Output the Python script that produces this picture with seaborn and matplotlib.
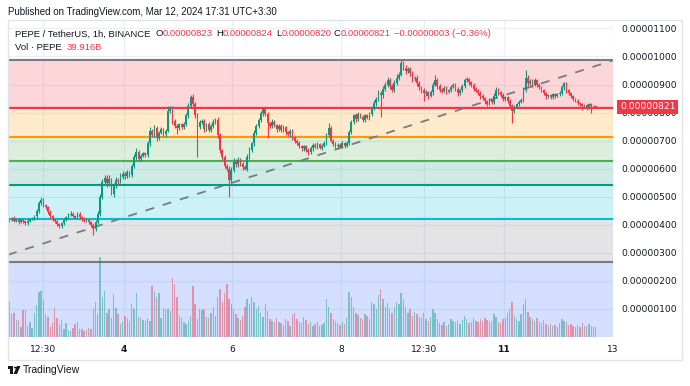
import numpy as np
import pandas as pd
import matplotlib
matplotlib.use("Agg")
import matplotlib.pyplot as plt
import matplotlib.transforms as mtransforms
from matplotlib.patches import Rectangle, Circle, Polygon
import seaborn as sns

# prices are kept in units of 0.00000001 USDT
UNIT = 1e-8

FIRST_OPEN = 415
CLOSE = [
    418, 425, 415, 420, 410, 418, 412, 405, 415, 420,
    422, 430, 450, 478, 490, 470, 462, 445, 430, 420,
    412, 402, 395, 405, 418, 428, 435, 440, 432, 425,
    440, 428, 420, 415, 418, 410, 400, 385, 410, 440,
    500, 552, 568, 548, 562, 510, 540, 560, 555, 572,
    580, 574, 588, 578, 610, 640, 660, 635, 645, 655,
    648, 690, 735, 720, 745, 710, 728, 740, 722, 735,
    805, 815, 770, 752, 745, 758, 748, 760, 790, 825,
    855, 830, 790, 748, 765, 770, 742, 758, 738, 752,
    768, 775, 720, 665, 640, 610, 600, 560, 595, 625,
    615, 632, 618, 605, 600, 642, 668, 690, 728, 752,
    772, 798, 812, 795, 762, 752, 768, 755, 742, 752,
    738, 748, 730, 722, 735, 712, 700, 690, 680, 672,
    680, 668, 660, 672, 685, 678, 688, 675, 682, 690,
    720, 745, 700, 688, 680, 685, 678, 690, 682, 692,
    730, 765, 790, 778, 795, 785, 775, 790, 782, 795,
    815, 835, 848, 870, 862, 885, 900, 915, 895, 880,
    905, 925, 935, 975, 960, 948, 955, 940, 920, 925,
    905, 890, 880, 868, 872, 860, 872, 900, 915, 895,
    882, 878, 888, 875, 880, 892, 900, 885, 870, 880,
    895, 915, 920, 908, 900, 885, 878, 870, 860, 852,
    840, 832, 845, 838, 860, 880, 872, 862, 850, 855,
    842, 825, 805, 820, 830, 838, 845, 880, 925, 905,
    912, 900, 915, 898, 890, 880, 868, 858, 862, 855,
    865, 860, 866, 870, 890, 905, 880, 870, 858, 848,
    842, 835, 830, 822, 826, 818, 830, 825, 823, 821,
]
WICK_UP = [
    5, 4, 6, 3, 5, 4, 6, 3, 5, 4,
    4, 6, 5, 8, 10, 6, 5, 4, 6, 5,
    4, 6, 5, 4, 6, 5, 8, 10, 5, 4,
    6, 5, 4, 6, 5, 4, 3, 5, 6, 8,
    10, 12, 8, 10, 14, 6, 8, 10, 6, 12,
    10, 8, 6, 5, 8, 12, 13, 8, 6, 5,
    6, 8, 12, 8, 10, 6, 8, 10, 6, 8,
    20, 8, 10, 6, 8, 5, 6, 8, 10, 8,
    7, 10, 6, 8, 10, 6, 8, 6, 10, 8,
    8, 6, 10, 8, 6, 8, 6, 8, 10, 12,
    8, 10, 6, 5, 8, 10, 8, 6, 10, 8,
    10, 8, 7, 6, 8, 6, 8, 5, 6, 8,
    6, 8, 5, 6, 8, 6, 5, 6, 8, 5,
    6, 5, 6, 8, 5, 6, 8, 5, 6, 8,
    8, 17, 6, 5, 6, 5, 6, 8, 6, 5,
    8, 10, 6, 8, 6, 5, 8, 6, 5, 8,
    8, 10, 6, 10, 8, 10, 8, 12, 10, 8,
    10, 12, 8, 11, 8, 10, 8, 6, 8, 6,
    8, 6, 5, 6, 8, 5, 8, 10, 18, 8,
    6, 5, 8, 6, 5, 8, 6, 5, 6, 5,
    8, 8, 6, 5, 6, 5, 6, 5, 6, 5,
    5, 6, 8, 5, 8, 10, 6, 5, 6, 5,
    5, 6, 5, 6, 5, 6, 8, 12, 25, 10,
    8, 6, 8, 5, 6, 5, 4, 6, 5, 4,
    5, 4, 5, 6, 8, 5, 4, 5, 4, 4,
    4, 5, 4, 3, 4, 5, 4, 3, 2, 1,
]
WICK_DN = [
    5, 4, 6, 5, 6, 4, 5, 6, 4, 5,
    4, 5, 6, 8, 6, 5, 6, 5, 6, 5,
    5, 8, 6, 5, 4, 5, 6, 5, 6, 5,
    5, 6, 5, 4, 5, 6, 8, 22, 6, 8,
    10, 8, 10, 12, 8, 5, 10, 8, 10, 6,
    8, 10, 6, 8, 6, 8, 10, 6, 8, 5,
    8, 6, 10, 8, 6, 10, 8, 6, 10, 8,
    6, 8, 10, 8, 20, 6, 8, 6, 8, 10,
    6, 8, 10, 108, 8, 6, 10, 8, 6, 8,
    6, 8, 10, 8, 10, 8, 10, 60, 10, 8,
    10, 8, 10, 8, 6, 8, 6, 8, 10, 8,
    8, 6, 10, 8, 53, 8, 6, 8, 10, 6,
    6, 8, 10, 6, 8, 10, 8, 6, 8, 10,
    8, 10, 12, 6, 8, 6, 8, 6, 8, 6,
    6, 8, 6, 8, 6, 8, 6, 5, 8, 6,
    6, 8, 6, 10, 8, 6, 10, 8, 6, 8,
    8, 6, 10, 8, 79, 10, 8, 10, 12, 8,
    6, 8, 10, 6, 8, 10, 6, 8, 10, 8,
    10, 8, 10, 25, 8, 10, 6, 8, 6, 10,
    8, 10, 6, 8, 6, 8, 6, 8, 10, 6,
    6, 8, 6, 8, 10, 8, 6, 8, 10, 8,
    8, 10, 6, 8, 6, 8, 10, 6, 8, 10,
    8, 10, 43, 6, 8, 6, 5, 6, 8, 10,
    8, 10, 6, 8, 6, 8, 6, 8, 6, 8,
    6, 8, 6, 8, 6, 8, 10, 8, 6, 8,
    6, 8, 6, 14, 6, 8, 6, 25, 4, 1,
]
# volume in billions of PEPE
VOLUME = [
    144, 91, 95, 68, 68, 40, 107, 107, 44, 60,
    35, 97, 127, 180, 184, 148, 91, 81, 41, 55,
    115, 77, 48, 68, 31, 55, 28, 24, 37, 51,
    60, 33, 33, 24, 28, 37, 31, 111, 140, 91,
    317, 160, 184, 97, 111, 77, 171, 117, 91, 51,
    61, 84, 77, 64, 131, 111, 173, 81, 77, 68,
    64, 77, 64, 201, 177, 157, 175, 77, 117, 111,
    111, 104, 235, 211, 157, 84, 77, 60, 51, 64,
    84, 201, 131, 73, 111, 108, 111, 81, 77, 95,
    120, 85, 160, 190, 140, 175, 210, 150, 130, 110,
    90, 75, 68, 84, 120, 150, 130, 160, 140, 110,
    125, 95, 80, 130, 105, 70, 64, 58, 75, 60,
    55, 48, 70, 62, 45, 88, 95, 72, 60, 55,
    80, 68, 52, 60, 45, 50, 58, 42, 48, 55,
    150, 120, 95, 70, 62, 55, 48, 60, 52, 75,
    180, 160, 120, 95, 88, 75, 70, 90, 82, 70,
    140, 130, 110, 165, 190, 150, 120, 135, 110, 95,
    120, 140, 130, 175, 150, 120, 95, 110, 85, 100,
    90, 80, 75, 95, 70, 62, 80, 110, 95, 70,
    55, 48, 60, 45, 52, 70, 65, 58, 62, 50,
    68, 85, 72, 55, 60, 75, 64, 58, 70, 62,
    75, 68, 58, 65, 90, 80, 60, 55, 70, 75,
    95, 110, 140, 85, 70, 65, 90, 130, 150, 100,
    80, 70, 62, 75, 60, 55, 68, 52, 45, 50,
    42, 48, 40, 55, 70, 62, 58, 48, 52, 45,
    40, 48, 38, 55, 45, 42, 50, 44, 38, 39.916,
]

FIB_TOP = 987
FIB_BOTTOM = 266
FIB_RATIOS = [0, 0.236, 0.382, 0.5, 0.618, 0.786, 1, 1.618]
FIB_COLORS = ["#787b86", "#f23645", "#ff9800", "#4caf50",
              "#089981", "#00bcd4", "#787b86", "#2962ff"]

TREND_X = [-0.66, 266.2]
TREND_Y = [293, 985]

LAST_PRICE = 821
Y_TICKS = [100, 200, 300, 400, 500, 600, 700, 800, 900, 1000, 1100]
TICK_POS = [15, 50.5, 98.5, 146.5, 183, 218.5, 266.5]
TICK_LABELS = ["12:30", "4", "6", "8", "12:30", "11", "13"]
BOLD_TICKS = ["4", "11"]

GREEN = "#089981"
RED = "#f23645"
TEXT = "#131722"

sns.set_style("white")
plt.rcParams["font.family"] = ["DejaVu Sans"]

df = pd.DataFrame({"close": CLOSE, "up": WICK_UP, "dn": WICK_DN, "volume": VOLUME})
df["x"] = np.arange(len(df))
df["open"] = [FIRST_OPEN] + CLOSE[:-1]
df["high"] = df[["open", "close"]].max(axis=1) + df["up"]
df["low"] = df[["open", "close"]].min(axis=1) - df["dn"]
df["dir"] = np.where(df["close"] >= df["open"], "up", "down")

W, H = 690, 386
fig = plt.figure(figsize=(W / 100, H / 100), dpi=100)
fig.patch.set_facecolor("white")


def fx(px):
    return px / W


def fy(py):
    return 1 - py / H


ax = fig.add_axes([fx(8), fy(337), fx(605), 317 / H])
ax.set_facecolor("white")
ax.set_xlim(-0.66, 266.6)
ax.set_ylim(0, 1130)

# grid
for t in TICK_POS:
    ax.axvline(t, color="#eef0f5", lw=1, zorder=0)
for t in Y_TICKS:
    ax.axhline(t, color="#eef0f5", lw=1, zorder=0)

# fibonacci retracement bands
levels = [FIB_TOP - r * (FIB_TOP - FIB_BOTTOM) for r in FIB_RATIOS]
for k in range(1, len(levels)):
    ax.axhspan(levels[k], levels[k - 1], color=FIB_COLORS[k], alpha=0.2, lw=0, zorder=1)
for k in range(len(levels) - 1):
    ax.axhline(levels[k], color=FIB_COLORS[k], lw=1.5, zorder=2)

# trend line
sns.lineplot(x=TREND_X, y=TREND_Y, ax=ax, color="#787b86", lw=1.3,
             zorder=3).lines[-1].set_dashes([5, 5])

# candles
colors = df["dir"].map({"up": GREEN, "down": RED})
ax.vlines(df["x"], df["low"], df["high"], colors=colors, lw=0.8, zorder=4)
body = (df["close"] - df["open"]).abs().clip(lower=2)
ax.bar(df["x"], body, bottom=df[["open", "close"]].min(axis=1), width=0.75,
       color=colors, lw=0, zorder=5)

# last price line
ax.axhline(LAST_PRICE, color=RED, lw=1, ls=(0, (1, 1)), zorder=6)

# volume overlay
vax = ax.twinx()
sns.barplot(data=df, x="x", y="volume", hue="dir", native_scale=True,
            palette={"up": GREEN, "down": RED}, saturation=1, width=0.62,
            errorbar=None, legend=False, alpha=0.45, lw=0, ax=vax)
vax.set_ylim(0, max(VOLUME) / 0.252)
vax.set_xlim(-0.66, 266.6)
vax.set_yticks([])
vax.set_ylabel("")
vax.set_xlabel("")
for s in vax.spines.values():
    s.set_visible(False)

# axes ticks (set after twinx, which moves the y ticks to the left)
ax.set_xticks(TICK_POS)
ax.set_xticklabels(TICK_LABELS)
for lab in ax.get_xticklabels():
    if lab.get_text() in BOLD_TICKS:
        lab.set_fontweight("bold")
ax.set_yticks(Y_TICKS)
ax.set_yticklabels([f"{v * UNIT:.8f}" for v in Y_TICKS])
ax.yaxis.tick_right()
ax.yaxis.set_label_position("right")
ax.tick_params(axis="both", length=0, labelsize=6.6, colors=TEXT)
ax.tick_params(axis="x", pad=6)
ax.tick_params(axis="y", pad=6)
for s in ax.spines.values():
    s.set_visible(False)
ax.set_xlabel("")
ax.set_ylabel("")

# last price tag
trans = mtransforms.blended_transform_factory(ax.transAxes, ax.transData)
vax.text(1.0115, LAST_PRICE, f"{LAST_PRICE * UNIT:.8f}", transform=trans,
         ha="left", va="center", fontsize=6.6, color="white", zorder=10,
         bbox=dict(boxstyle="square,pad=0.28", fc=RED, ec="none"), clip_on=False)

# widget frame
fig.add_artist(Rectangle((fx(8), fy(360)), fx(674), 340 / H, transform=fig.transFigure,
                         fill=False, ec="#e0e3eb", lw=1))

# header texts
HFONT = ["Liberation Sans", "DejaVu Sans"]
fig.text(fx(8), fy(12), "Published on TradingView.com, Mar 12, 2024 17:31 UTC+3:30",
         fontsize=7, color=TEXT, va="center", family=HFONT)
row = [(15, "PEPE / TetherUS, 1h, BINANCE", TEXT),
       (156, "O", TEXT), (163, "0.00000823", RED),
       (216, "H", TEXT), (223, "0.00000824", RED),
       (276, "L", TEXT), (282, "0.00000820", RED),
       (334, "C", TEXT), (341, "0.00000821", RED),
       (394, "\u22120.00000003 (\u22120.36%)", RED)]
for x0, s, c in row:
    fig.text(fx(x0), fy(34), s, fontsize=6.8, color=c, va="center", family=HFONT)
fig.text(fx(15), fy(47), "Vol \u00b7 PEPE", fontsize=6.8, color=TEXT, va="center", family=HFONT)
fig.text(fx(67), fy(47), "39.916B", fontsize=6.8, color=RED, va="center", family=HFONT)

# footer logo and name
fig.add_artist(Rectangle((fx(8), fy(369)), fx(5.5), 3 / H, transform=fig.transFigure,
                         fc=TEXT, ec="none"))
fig.add_artist(Rectangle((fx(10), fy(374)), fx(3), 8 / H, transform=fig.transFigure,
                         fc=TEXT, ec="none"))
fig.add_artist(Circle((fx(15.5), fy(367.6)), 1.6 / W, transform=fig.transFigure,
                      fc=TEXT, ec="none"))
fig.add_artist(Polygon([(fx(17), fy(366)), (fx(20.5), fy(366)), (fx(17), fy(374)),
                        (fx(13.5), fy(374))], closed=True, transform=fig.transFigure,
                       fc=TEXT, ec="none"))
fig.text(fx(23), fy(370), "TradingView", fontsize=7.5, color=TEXT, va="center", family=HFONT)

fig.savefig("out.png", dpi=100)
